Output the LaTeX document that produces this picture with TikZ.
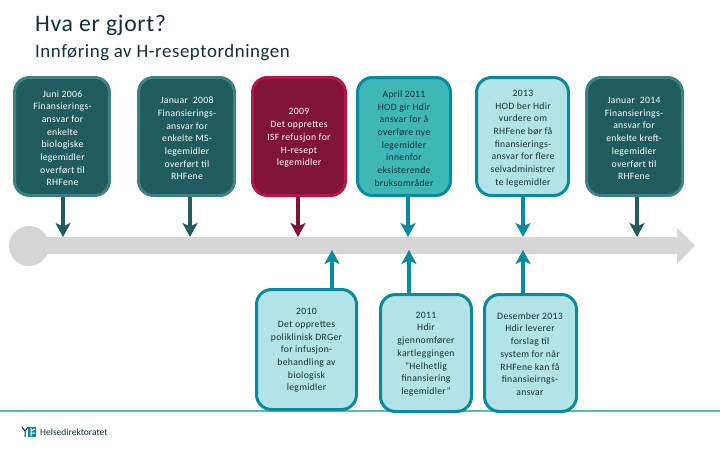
\documentclass[tikz,border=0pt]{standalone}
\usepackage{fontspec}
\setmainfont[LetterSpace=3]{Carlito}
\newfontfamily\logofont{Carlito}
\usetikzlibrary{arrows.meta}
\definecolor{dkfill}{HTML}{205B5E}
\definecolor{dkline}{HTML}{3F8080}
\definecolor{redfill}{HTML}{7F1436}
\definecolor{redline}{HTML}{B5174D}
\definecolor{tealfill}{HTML}{3FB7B5}
\definecolor{tealline}{HTML}{0A8A9F}
\definecolor{ltfill}{HTML}{B2E3E6}
\definecolor{inkc}{HTML}{13303A}
\definecolor{barc}{HTML}{D6D6D6}
\definecolor{rulec}{HTML}{5DB8B0}
\tikzset{x=1pt,y=-1pt,
 card/.style={rounded corners=15pt,line width=3pt,align=center,inner sep=0pt,anchor=north west},
 dk/.style={card,fill=dkfill,draw=dkline},
 rd/.style={card,fill=redfill,draw=redline},
 tl/.style={card,fill=tealfill,draw=tealline},
 lt/.style={card,fill=ltfill,draw=tealline},
 conn/.style={line width=4.5pt,-{Stealth[length=14pt,width=15pt,inset=3.5pt]}},
 ttl/.style={anchor=base west,inner sep=0pt,text=inkc}}
\newcommand{\cardat}[8]{\node[#1,minimum width=#4pt,minimum height=#5pt] (#2) at (#3) {};
 \node[align=center,inner sep=0pt,text=#6,font=\fontsize{9.7}{12.7}\selectfont] (#2t) at (#7) {#8};}
\begin{document}
\begin{tikzpicture}
\useasboundingbox (0,0) rectangle (720,450);
\fill[white] (0,0) rectangle (720,450);
\draw[rulec,line width=2pt] (0,411) -- (720,411);
% timeline
\node[circle,fill=barc,minimum size=40pt,inner sep=0pt] (start) at (29,246) {};
\fill[barc] (29,237) -- (677,237) -- (677,228) -- (695,245.5) -- (677,264) -- (677,254) -- (29,254) -- cycle;
\coordinate (d1) at (63,237);
\coordinate (d2) at (190,237);
\coordinate (d3) at (298,237);
\coordinate (d4) at (408,237);
\coordinate (d5) at (523,237);
\coordinate (d6) at (637,237);
\coordinate (u1) at (332,250);
\coordinate (u2) at (409,250);
\coordinate (u3) at (523,250);
% cards
\cardat{dk}{a}{13,76}{95}{118}{white}{62.5,138.2}{Juni 2006\\Finansierings-\\ansvar for\\enkelte\\biologiske\\legemidler\\overført til\\RHFene}
\cardat{dk}{b}{137,76}{96}{118}{white}{187,138.5}{Januar\ \ 2008\\Finansierings-\\ansvar for\\enkelte MS-\\legemidler\\overført til\\RHFene}
\cardat{rd}{c}{251,76}{93}{118}{white}{299,138}{2009\\Det opprettes\\ISF refusjon for\\H-resept\\legemidler}
\cardat{tl}{e}{356,76}{93}{118}{inkc}{404,138.5}{April 2011\\HOD gir Hdir\\ansvar for å\\overføre nye\\legemidler\\innenfor\\eksisterende\\bruksområder}
\cardat{lt}{f}{475,76}{92}{118}{inkc}{523,138.5}{2013\\HOD ber Hdir\\vurdere om\\RHFene bør få\\finansierings-\\ansvar for flere\\selvadministrer\\te legemidler}
\cardat{dk}{g}{585,76}{96}{118}{white}{634,138.5}{Januar\ \ 2014\\Finansierings-\\ansvar for\\enkelte kreft-\\legemidler\\overført til\\RHFene}
\cardat{lt}{h}{255,288}{100}{120}{inkc}{306.5,350.5}{2010\\Det opprettes\\poliklinisk DRGer\\for infusjon-\\behandling av\\biologisk\\legmidler}
\cardat{lt}{i}{379,293}{91}{117}{inkc}{426,354}{2011\\Hdir\\gjennomfører\\kartleggingen\\”Helhetlig\\finansiering\\legemidler”}
\cardat{lt}{j}{483,293}{92}{117}{inkc}{530,354}{Desember 2013\\Hdir leverer\\forslag til\\system for når\\RHFene kan få\\finansieirngs-\\ansvar}
% connectors
\draw[conn,dkfill] (a.south -| d1) -- (d1);
\draw[conn,dkfill] (b.south -| d2) -- (d2);
\draw[conn,redfill] (c.south -| d3) -- (d3);
\draw[conn,tealline] (e.south -| d4) -- (d4);
\draw[conn,tealline] (f.south -| d5) -- (d5);
\draw[conn,dkfill] (g.south -| d6) -- (d6);
\draw[conn,tealline] (h.north -| u1) -- (u1);
\draw[conn,tealline] (i.north -| u2) -- (u2);
\draw[conn,tealline] (j.north -| u3) -- (u3);
% titles
\node[ttl,font=\fontsize{23.7}{25}\selectfont] (title) at (35,31) {Hva er gjort?};
\node[ttl,font=\fontsize{18.85}{20}\selectfont] (sub) at (35,57) {Innføring av H-reseptordningen};
% logo
\fill[tealline] (28,427) rectangle (36,437);
\draw[white,line width=1pt] (31,428) -- (31,436) (31,431) -- (35,429) (31,433) -- (35,433);
\draw[inkc,line width=1pt] (22,427) -- (25,431) -- (28,427) (25,431) -- (25,437);
\node[anchor=west,inner sep=0pt,text=inkc,font=\logofont\fontsize{9.5}{10}\selectfont] (logo) at (40,432.5) {Helsedirektoratet};
\end{tikzpicture}
\end{document}
